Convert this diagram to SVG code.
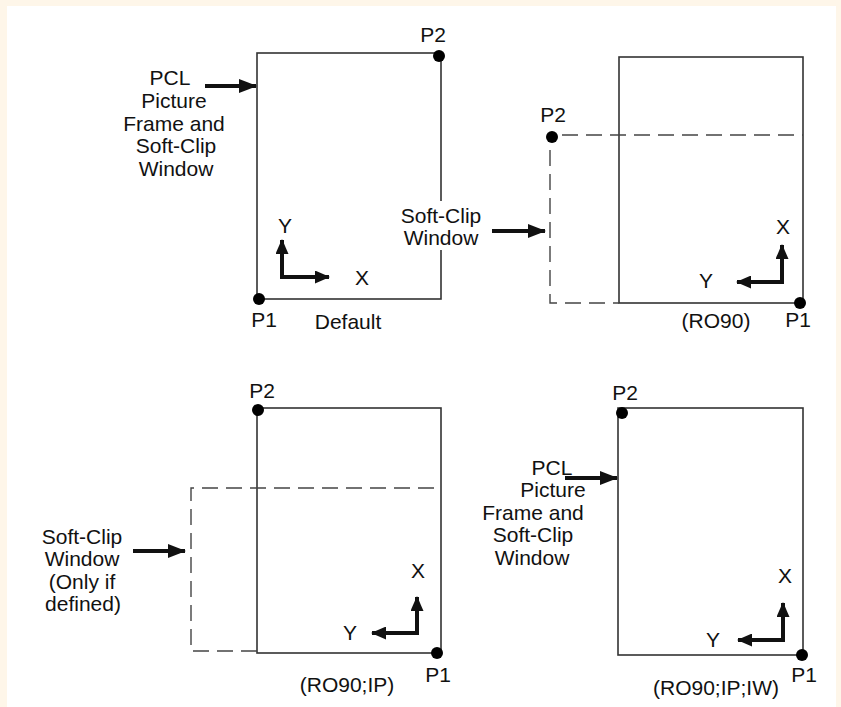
<svg xmlns="http://www.w3.org/2000/svg" width="841" height="707" viewBox="0 0 841 707">
<defs>
  <marker id="head" viewBox="0 0 18 14" refX="17" refY="7" markerWidth="18" markerHeight="14" markerUnits="userSpaceOnUse" orient="auto-start-reverse">
    <path d="M0,0 L18,7 L0,14 Z" fill="#111"/>
  </marker>
  <marker id="axhead" viewBox="0 0 15 13" refX="14" refY="6.5" markerWidth="15" markerHeight="13" markerUnits="userSpaceOnUse" orient="auto-start-reverse">
    <path d="M0,0 L15,6.5 L0,13 Z" fill="#111"/>
  </marker>
</defs>
<style>
  text { font-family: "Liberation Sans", Arial, sans-serif; font-size: 21px; fill: #111; text-anchor: middle; }
  .frame { fill: none; stroke: #333; stroke-width: 1.6; }
  .dash { fill: none; stroke: #444; stroke-width: 1.4; stroke-dasharray: 16 8; }
  .dot { fill: #000; }
  .arrow { fill: none; stroke: #111; stroke-width: 4; marker-end: url(#head); }
  .axes { fill: none; stroke: #111; stroke-width: 4; stroke-linejoin: miter; marker-start: url(#axhead); marker-end: url(#axhead); }
</style>
<rect x="0" y="0" width="841" height="707" fill="#fef6e9"/>
<rect x="7" y="6" width="829" height="701" fill="#ffffff"/>

<!-- Panel 1: Default -->
<g id="panel-default">
  <rect class="frame" x="257" y="53" width="184" height="246"/>
  <circle class="dot" cx="439" cy="56" r="6"/>
  <circle class="dot" cx="259" cy="299" r="6"/>
  <text x="433" y="42">P2</text>
  <text x="264" y="327">P1</text>
  <text x="348" y="329">Default</text>
  <path class="axes" d="M282,240 L282,277 L329,277"/>
  <text x="285" y="233">Y</text>
  <text x="362" y="285">X</text>
</g>
<g id="label-pcl-1">
  <text x="170" y="85">PCL</text>
  <text x="174" y="108">Picture</text>
  <text x="174" y="131">Frame and</text>
  <text x="176" y="153">Soft-Clip</text>
  <text x="176" y="176">Window</text>
</g>

<!-- Panel 2: RO90 -->
<g id="panel-ro90">
  <rect class="frame" x="619" y="57" width="184" height="246"/>
  <path class="dash" d="M562,135 L803,135"/>
  <path class="dash" d="M550,150 L550,303 L619,303"/>
  <circle class="dot" cx="552" cy="137" r="6"/>
  <circle class="dot" cx="800" cy="303" r="6"/>
  <text x="553" y="122">P2</text>
  <text x="798" y="327">P1</text>
  <text x="716" y="328">(RO90)</text>
  <path class="axes" d="M782,245 L782,282 L737,282"/>
  <text x="783" y="234">X</text>
  <text x="706" y="288">Y</text>
</g>
<g id="label-softclip-2">
  <rect x="398" y="201" width="86" height="49" fill="#ffffff"/>
  <text x="441" y="223">Soft-Clip</text>
  <text x="441" y="245">Window</text>
</g>

<!-- Panel 3: RO90;IP -->
<g id="panel-ro90-ip">
  <rect class="frame" x="257" y="408" width="184" height="245"/>
  <path class="dash" d="M257,651 L191,651 L191,488 L441,488"/>
  <circle class="dot" cx="258" cy="410" r="6"/>
  <circle class="dot" cx="437" cy="653" r="6"/>
  <text x="262" y="398">P2</text>
  <text x="438" y="682">P1</text>
  <text x="347" y="692">(RO90;IP)</text>
  <path class="axes" d="M417,597 L417,633 L372,633"/>
  <text x="418" y="578">X</text>
  <text x="350" y="640">Y</text>
</g>
<g id="label-softclip-3">
  <text x="82" y="544">Soft-Clip</text>
  <text x="82" y="566">Window</text>
  <text x="82" y="589">(Only if</text>
  <text x="83" y="611">defined)</text>
</g>

<!-- Panel 4: RO90;IP;IW -->
<g id="panel-ro90-ip-iw">
  <rect class="frame" x="618" y="408" width="185" height="247"/>
  <circle class="dot" cx="622" cy="413" r="6"/>
  <circle class="dot" cx="802" cy="655" r="6"/>
  <text x="625" y="400">P2</text>
  <text x="804" y="682">P1</text>
  <text x="716" y="695">(RO90;IP;IW)</text>
  <path class="axes" d="M783,603 L783,640 L738,640"/>
  <text x="785" y="583">X</text>
  <text x="713" y="647">Y</text>
</g>
<g id="label-pcl-4">
  <text x="552" y="475">PCL</text>
  <text x="553" y="497">Picture</text>
  <text x="533" y="520">Frame and</text>
  <text x="533" y="542">Soft-Clip</text>
  <text x="532" y="565">Window</text>
</g>

<!-- Connectors -->
<g id="connectors">
  <path class="arrow" d="M205,86 L256,86"/>
  <path class="arrow" d="M492,231 L545,231"/>
  <path class="arrow" d="M133,551 L185,551"/>
  <path class="arrow" d="M565,478 L617,478"/>
</g>
</svg>
